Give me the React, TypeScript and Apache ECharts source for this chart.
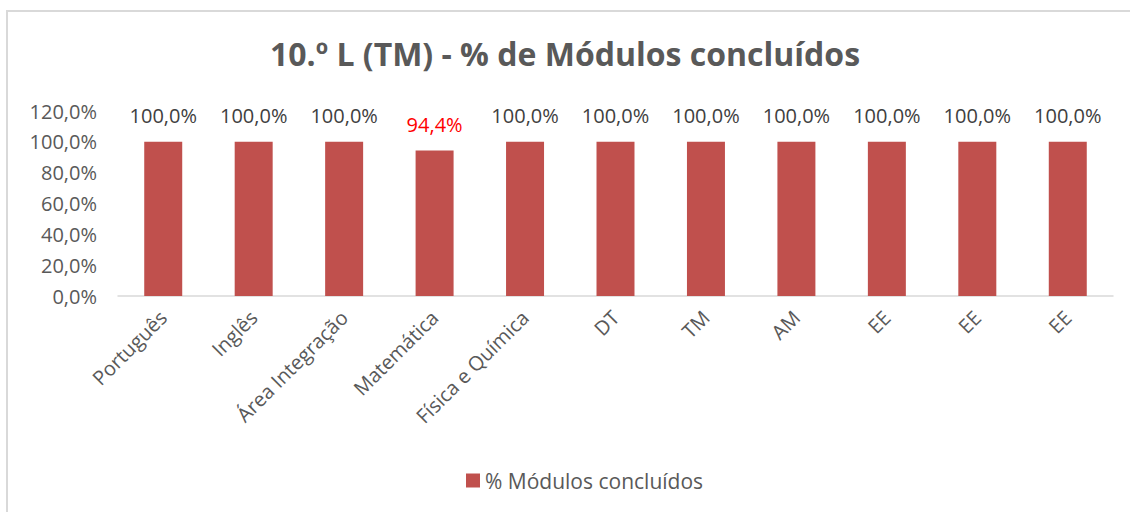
import React, { useEffect, useRef } from "react";
import * as echarts from "echarts";

const categories = ["Português", "Inglês", "Área Integração", "Matemática", "Física e Química", "DT", "TM", "AM", "EE", "EE", "EE"];
const values = [100, 100, 100, 94.4, 100, 100, 100, 100, 100, 100, 100];
const seriesName = "% Módulos concluídos";
const titleText = "10.º L (TM) - % de Módulos concluídos";

const FONT = "'Open Sans', sans-serif";
const GREY = "#595959";
const BAR = "#C0504D";

export default function App() {
  const ref = useRef<HTMLDivElement>(null);
  useEffect(() => {
    if (!ref.current) return;
    const chart = echarts.init(ref.current, undefined, { renderer: "svg" });
    const fmt = (v: number) => v.toFixed(1).replace(".", ",") + "%";
    chart.setOption({
      animation: false,
      backgroundColor: "#fff",
      graphic: [
        {
          type: "rect",
          shape: { x: 7, y: 11, width: 1200, height: 600 },
          style: { fill: "none", stroke: "#d9d9d9", lineWidth: 2 },
          silent: true,
        },
      ],
      title: {
        text: titleText,
        left: "center",
        top: 32,
        textStyle: { fontFamily: FONT, fontSize: 32, fontWeight: "bold", color: GREY },
      },
      legend: {
        bottom: 16,
        left: 461,
        itemWidth: 14,
        itemHeight: 14,
        itemGap: 5,
        icon: "rect",
        textStyle: { fontFamily: FONT, fontSize: 21, color: GREY },
        data: [seriesName],
      },
      grid: { left: 118, right: 17, top: 111, bottom: 216, containLabel: false },
      xAxis: {
        type: "category",
        data: categories,
        axisLine: { lineStyle: { color: "#d9d9d9", width: 1.5 } },
        axisTick: { show: false },
        axisLabel: {
          interval: 0,
          rotate: 45,
          margin: 18,
          fontFamily: FONT,
          fontSize: 20,
          color: GREY,
        },
      },
      yAxis: {
        type: "value",
        min: 0,
        max: 120,
        interval: 20,
        splitLine: { show: false },
        axisLine: { show: false },
        axisTick: { show: false },
        axisLabel: {
          formatter: (v: number) => fmt(v),
          fontFamily: FONT,
          fontSize: 20,
          color: GREY,
          margin: 21,
        },
      },
      series: [
        {
          name: seriesName,
          type: "bar",
          barWidth: "42%",
          itemStyle: { color: BAR },
          data: values.map((v) => ({
            value: v,
            label: v < 100 ? { color: "#FF0000" } : undefined,
          })),
          label: {
            show: true,
            position: "top",
            distance: 16,
            formatter: (p: any) => fmt(p.value),
            fontFamily: FONT,
            fontSize: 20,
            color: "#404040",
          },
        },
      ],
    });
    return () => chart.dispose();
  }, []);
  return (
    <div
      ref={ref}
      style={{ position: "absolute", left: 0, top: 0, width: 1130, height: 512 }}
    />
  );
}
